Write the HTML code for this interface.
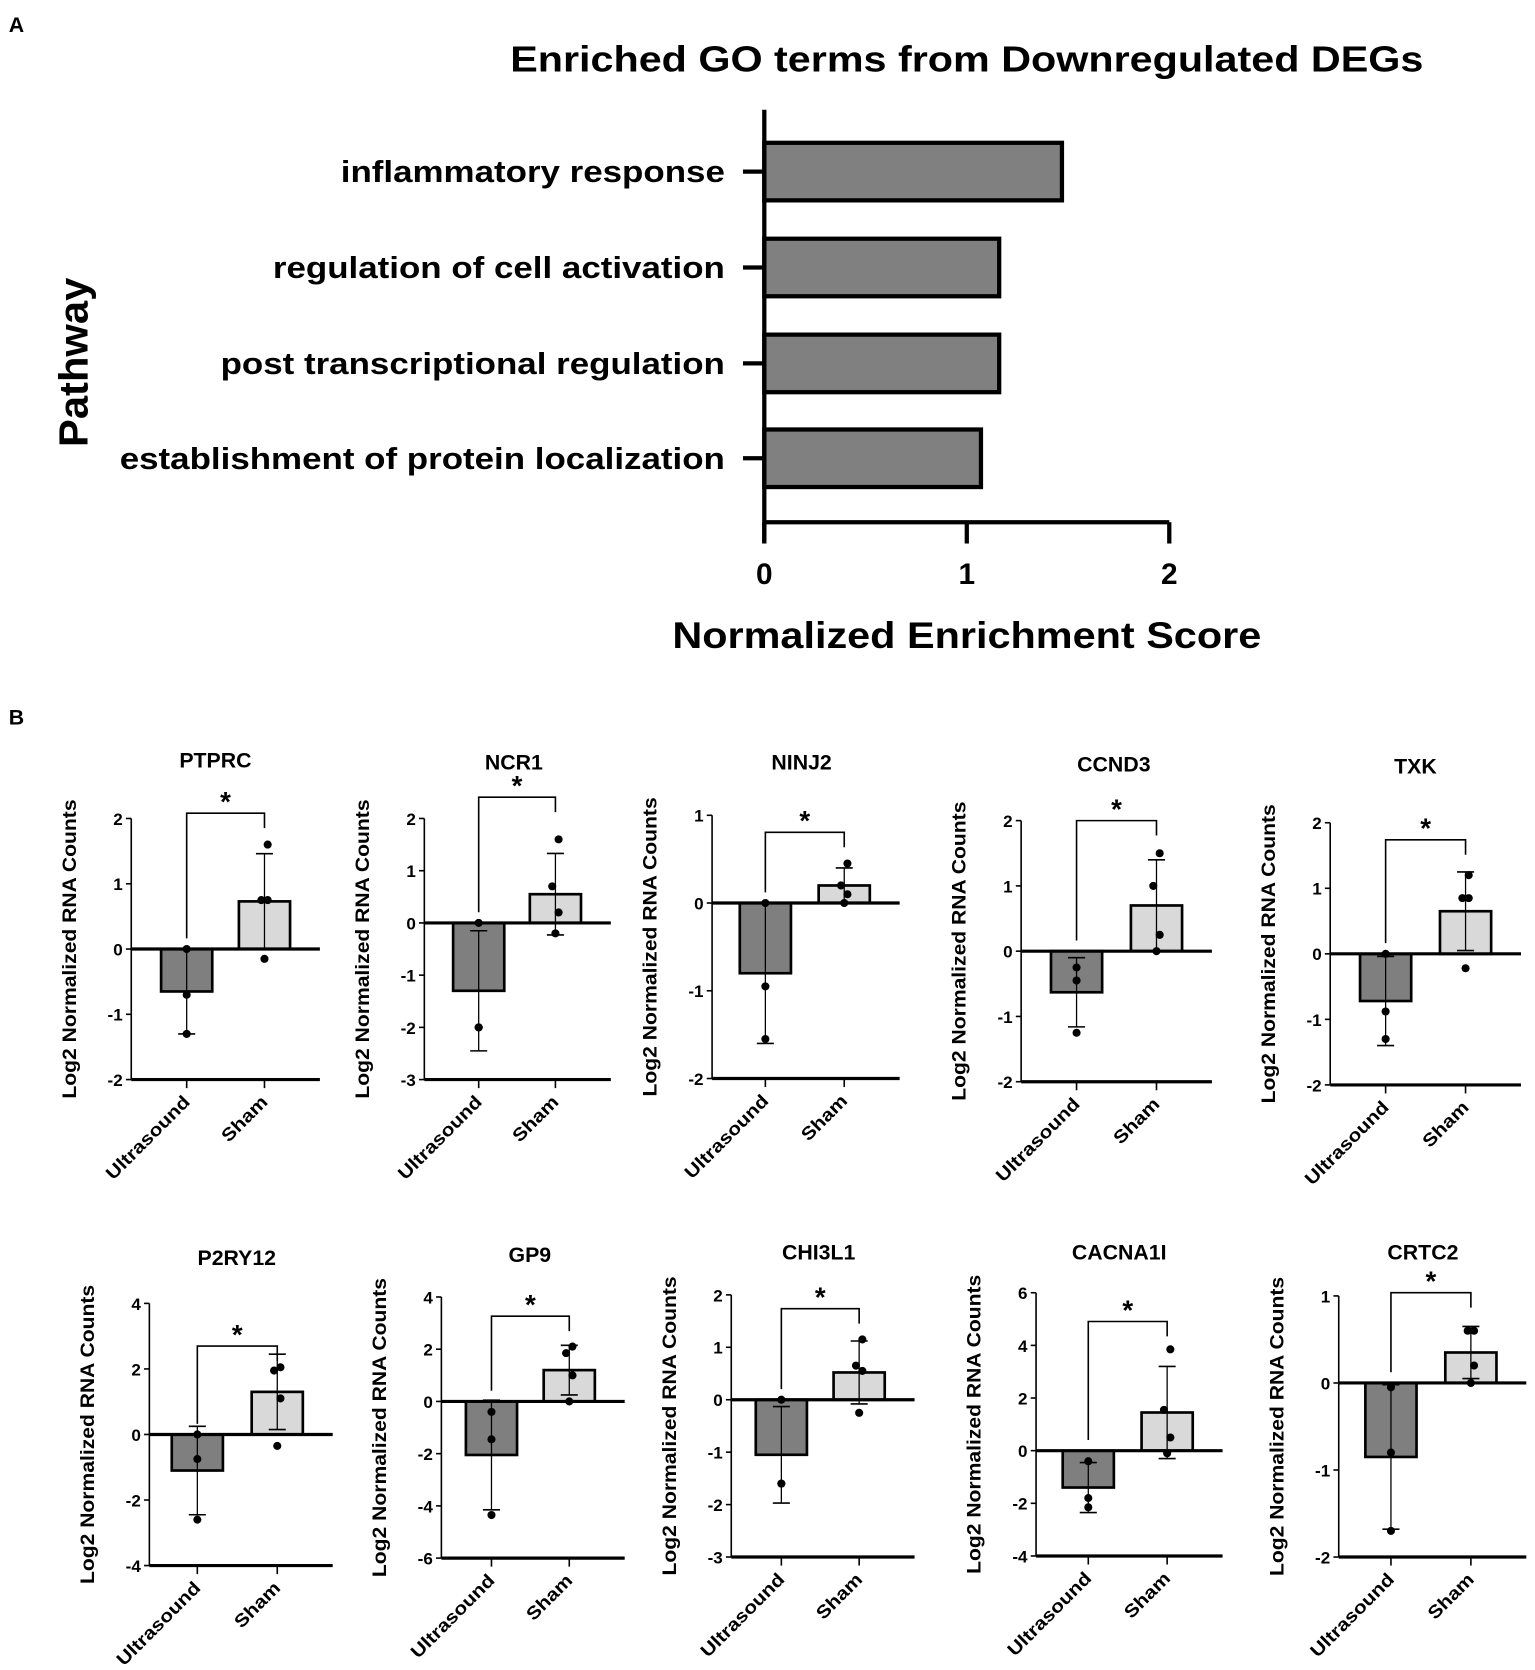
<!DOCTYPE html>
<html><head><meta charset="utf-8"><style>
html,body{margin:0;padding:0;background:#fff}
svg{display:block;font-family:"Liberation Sans",Arial,sans-serif;font-weight:bold}
</style></head><body>
<svg id="fig" width="1535" height="1670" viewBox="0 0 1440 1567" xmlns="http://www.w3.org/2000/svg">
<text x="8" y="30" font-size="20">A</text>
<text x="8" y="680" font-size="20">B</text>
<g id="chartA"></g>
<g id="chartB"></g>
</svg>
<script>
const NS="http://www.w3.org/2000/svg";
const goTerms=["inflammatory response","regulation of cell activation","post transcriptional regulation","establishment of protein localization"];
const goScores=[1.47,1.16,1.16,1.07];
const goTicks=[0,1,2];

const genes=["PTPRC","NCR1","NINJ2","CCND3","TXK","P2RY12","GP9","CHI3L1","CACNA1I","CRTC2"];
const yMin=[-2,-3,-2,-2,-2,-4,-6,-3,-4,-2];
const yMax=[2,2,1,2,2,4,4,2,6,1];
const yStep=[1,1,1,1,1,2,2,1,2,1];
const usMean=[-0.65,-1.3,-0.8,-0.63,-0.72,-1.1,-2.05,-1.05,-1.4,-0.85];
const usSd=[0.65,1.15,0.8,0.53,0.68,1.35,2.1,0.92,0.95,0.83];
const shMean=[0.73,0.55,0.2,0.7,0.65,1.3,1.2,0.52,1.45,0.35];
const shSd=[0.73,0.78,0.2,0.7,0.6,1.15,0.95,0.6,1.75,0.3];
const usPts=[[0,-0.7,-1.3],[0,-2,-2],[0,-0.95,-1.55],[-0.25,-0.45,-1.25],[0,-0.88,-1.3],[0,-0.75,-2.6],[-0.4,-1.45,-4.35],[0,-1.6,-1.6],[-0.4,-1.8,-2.15],[-0.05,-0.8,-1.7]];
const shPts=[[1.6,0.75,0.75,-0.15],[1.6,0.7,0.2,-0.2],[0.45,0.2,0.1,0],[1.5,1.0,0.25,0],[1.2,0.85,0.85,-0.22],[2.05,1.95,1.1,-0.35],[2.1,1.85,1.0,0],[1.15,0.65,0.55,-0.25],[3.85,1.55,0.5,-0.1],[0.6,0.6,0.2,0]];

function el(tag,attrs,parent,text){const e=document.createElementNS(NS,tag);for(const k in attrs)e.setAttribute(k,attrs[k]);if(text!==undefined)e.textContent=text;parent.appendChild(e);return e;}
function stretch(t,f){const w=t.getComputedTextLength();t.setAttribute('textLength',(w*f).toFixed(1));t.setAttribute('lengthAdjust','spacingAndGlyphs');}

// Chart A
(function(){
  const g=document.getElementById('chartA');
  const x0=717,x1=1097,vmax=2,yT=103,yB=490;
  const sx=v=>x0+(x1-x0)*v/vmax;
  const centers=[161,251,341,430];
  const t=el('text',{x:907,y:67,'font-size':34,'text-anchor':'middle'},g,"Enriched GO terms from Downregulated DEGs");
  
  stretch(t,1.14);
  goTerms.forEach((term,i)=>{
    const cy=centers[i];
    const r=el('rect',{x:sx(0),y:cy-27,width:sx(goScores[i])-sx(0),height:54,fill:'#808080',stroke:'#000','stroke-width':4},g);
    
    el('line',{x1:697,x2:717,y1:cy,y2:cy,stroke:'#000','stroke-width':4},g);
    const l=el('text',{x:680,y:cy+10,'font-size':29,'text-anchor':'end'},g,term);
    
    stretch(l,1.13);
  });
  el('line',{x1:x0,x2:x0,y1:yT,y2:yB+20,stroke:'#000','stroke-width':4},g);
  el('line',{x1:x0,x2:x1,y1:yB,y2:yB,stroke:'#000','stroke-width':4},g);
  goTicks.forEach(v=>{
    el('line',{x1:sx(v),x2:sx(v),y1:yB,y2:yB+20,stroke:'#000','stroke-width':4},g);
    const tl=el('text',{x:sx(v),y:548,'font-size':28,'text-anchor':'middle'},g,String(v));
    
  });
  const xt=el('text',{x:907,y:608,'font-size':35,'text-anchor':'middle'},g,"Normalized Enrichment Score");
  
  stretch(xt,1.11);
  const yt=el('text',{x:0,y:0,'font-size':38,'text-anchor':'middle',transform:'translate(82,340) rotate(-90)'},g,"Pathway");
  
  stretch(yt,1.03);
})();

// Chart B
(function(){
  const G=document.getElementById('chartB');
  const L=[
    {ax:123,top:768,bot:1013,c1:175,c2:248,tx:202,ty:713,br:763},
    {ax:398,top:768,bot:1013,c1:449,c2:521,tx:482,ty:715,br:748},
    {ax:668,top:765,bot:1012,c1:718,c2:792,tx:752,ty:715,br:781},
    {ax:958,top:770,bot:1015,c1:1010,c2:1085,tx:1045,ty:717,br:770},
    {ax:1248,top:772,bot:1018,c1:1300,c2:1375,tx:1328,ty:719,br:788},
    {ax:140,top:1223,bot:1469,c1:185,c2:260,tx:222,ty:1180,br:1263},
    {ax:414,top:1217,bot:1462,c1:461,c2:534,tx:497,ty:1177,br:1235},
    {ax:686,top:1215,bot:1461,c1:733,c2:806,tx:768,ty:1175,br:1228},
    {ax:972,top:1213,bot:1460,c1:1021,c2:1095,tx:1050,ty:1175,br:1240},
    {ax:1256,top:1216,bot:1461,c1:1305,c2:1380,tx:1335,ty:1175,br:1213}
  ];
  genes.forEach((gn,i)=>{
    const p=L[i];
    const g=el('g',{},G);
    
    const sy=v=>p.bot-(v-yMin[i])*(p.bot-p.top)/(yMax[i]-yMin[i]);
    const t=el('text',{x:p.tx,y:p.ty+7,'font-size':20,'text-anchor':'middle'},g,gn);
    
    const yt=el('text',{x:0,y:0,'font-size':18,'text-anchor':'middle',transform:`translate(${p.ax-52},${(p.top+p.bot)/2}) rotate(-90)`},g,"Log2 Normalized RNA Counts");
    
    stretch(yt,1.1);
    const right=p.c2+52;
    el('line',{x1:p.ax,x2:p.ax,y1:p.top,y2:p.bot,stroke:'#000','stroke-width':1.5},g);
    for(let v=yMin[i];v<=yMax[i]+1e-9;v+=yStep[i]){
      el('line',{x1:p.ax-5,x2:p.ax,y1:sy(v),y2:sy(v),stroke:'#000','stroke-width':1.5},g);
      const tl=el('text',{x:p.ax-8,y:sy(v)+6,'font-size':16,'text-anchor':'end'},g,String(v));
      
    }
    el('line',{x1:p.ax,x2:right,y1:p.bot,y2:p.bot,stroke:'#000','stroke-width':3},g);
    [p.c1,p.c2].forEach(c=>el('line',{x1:c,x2:c,y1:p.bot,y2:p.bot+8,stroke:'#000','stroke-width':1.5},g));
    const groups=[[p.c1,usMean[i],usSd[i],usPts[i],'#7f7f7f','ultrasound'],[p.c2,shMean[i],shSd[i],shPts[i],'#d9d9d9','sham']];
    groups.forEach(([c,m,sd,pts,col,nm])=>{
      const y0=sy(0),ym=sy(m);
      const r=el('rect',{x:c-24,y:Math.min(y0,ym),width:48,height:Math.abs(ym-y0),fill:col,stroke:'#000','stroke-width':2.5},g);
      
      el('line',{x1:c,x2:c,y1:sy(m-sd),y2:sy(m+sd),stroke:'#000','stroke-width':1.2},g);
      [m-sd,m+sd].forEach(v=>el('line',{x1:c-8,x2:c+8,y1:sy(v),y2:sy(v),stroke:'#000','stroke-width':1.5},g));
      pts.forEach((v,k)=>{
        const off=pts.length===3?0:[3,-3,3,0][k];
        const d=el('circle',{cx:c+off,cy:sy(v),r:3.8,fill:'#000'},g);
        
      });
    });
    el('line',{x1:p.ax,x2:right,y1:sy(0),y2:sy(0),stroke:'#000','stroke-width':3},g);
    el('polyline',{points:`${p.c1},${sy(0)-10} ${p.c1},${p.br} ${p.c2},${p.br} ${p.c2},${p.br+14}`,fill:'none',stroke:'#000','stroke-width':1.5},g);
    const s=el('text',{x:(p.c1+p.c2)/2,y:p.br-2,'font-size':26,'text-anchor':'middle'},g,"*");
    
    [[p.c1,'Ultrasound'],[p.c2,'Sham']].forEach(([c,lab])=>{
      const tl=el('text',{x:0,y:0,'font-size':17,'text-anchor':'end',transform:`translate(${c+4},${p.bot+22}) rotate(-45)`},g,lab);
      
      stretch(tl,1.15);
    });
  });
})();
</script>
</body></html>
